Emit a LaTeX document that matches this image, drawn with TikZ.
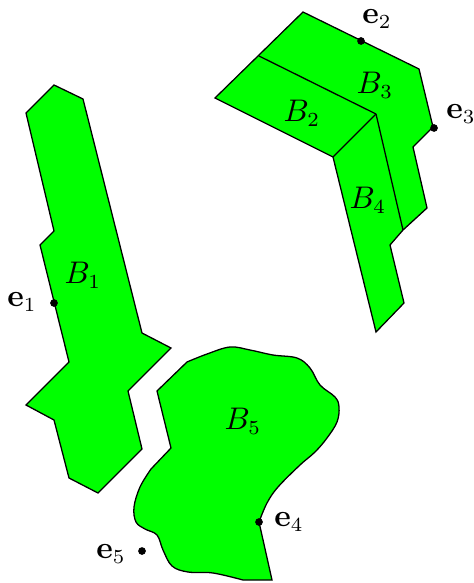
\documentclass[tikz,border=0pt]{standalone}
\usepackage{amsmath}
\begin{document}
\begin{tikzpicture}[x=0.35pt,y=-0.35pt,
  region/.style={fill={rgb,255:red,0;green,255;blue,0},draw=black,line width=0.45pt,line join=miter},
  inner/.style={draw=black,line width=0.45pt},
  pt/.style={circle,fill=black,inner sep=0pt,minimum size=2.7pt},
  lbl/.style={inner sep=0pt,font=\fontsize{10.5}{12}\selectfont}]
\useasboundingbox (0,0) rectangle (474,583);
% B1
\path[region] (54,85) -- (83,99) -- (142,333) -- (171,348) -- (128,391) -- (142,449)
  -- (98,493) -- (69,478) -- (54,420) -- (26,405) -- (69,362) -- (40,245) -- (54,231)
  -- (26,113) -- cycle;
% B2,B3,B4 outline
\path[region] (303,12) -- (419,69) -- (433,127) -- (413,147) -- (427,208) -- (403,230)
  -- (390,245) -- (404,303) -- (376,332) -- (333,157) -- (215,98) -- cycle;
\draw[inner] (259,56) -- (376,114);
\draw[inner] (333,157) -- (376,114);
\draw[inner] (376,114) -- (403,230);
% B5
\path[region] (157,391) -- (171,448) -- (151,469)
  -- plot[smooth,tension=0.6] coordinates {(151,469) (140,487) (134,507) (136,522) (145,529) (157,535) (163,550) (172,566) (188,572) (213,573) (243,580)}
  -- (272,580) -- (259,522)
  -- plot[smooth,tension=0.6] coordinates {(259,522) (267,503) (278,487) (300,465) (315,452) (327,438) (337,422) (339,407) (335,397) (320,385) (310,368) (297,358) (273,355) (250,350) (230,347) (207,354) (187,362)}
  -- cycle;
% points
\node[pt] (p1) at (54,303) {};
\node[pt] (p2) at (361,41) {};
\node[pt] (p3) at (434,128) {};
\node[pt] (p4) at (259,522) {};
\node[pt] (p5) at (142,551) {};
% labels
\node[lbl] (l1) at (22,302) {$\mathbf{e}_1$};
\node[lbl] (l2) at (377,19) {$\mathbf{e}_2$};
\node[lbl] (l3) at (461,114) {$\mathbf{e}_3$};
\node[lbl] (l4) at (289,522) {$\mathbf{e}_4$};
\node[lbl] (l5) at (111,554) {$\mathbf{e}_5$};
\node[lbl] (b1) at (83,275) {$B_1$};
\node[lbl] (b2) at (302,113) {$B_2$};
\node[lbl] (b3) at (375,85) {$B_3$};
\node[lbl] (b4) at (368,200) {$B_4$};
\node[lbl] (b5) at (243,421) {$B_5$};
\end{tikzpicture}
\end{document}
